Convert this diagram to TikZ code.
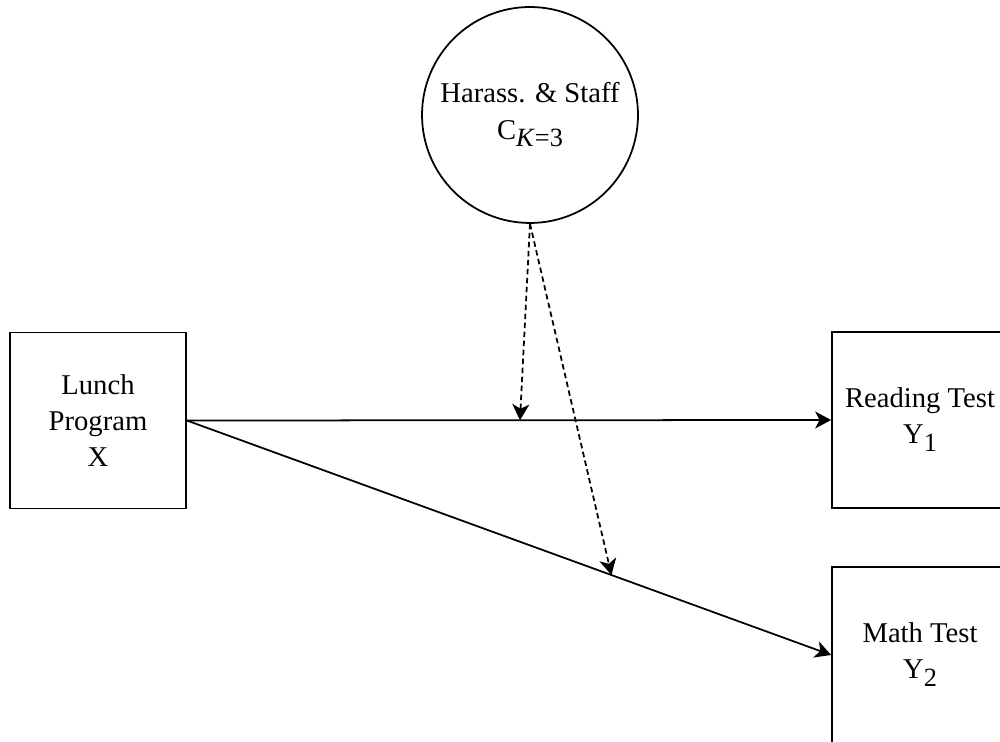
\documentclass[tikz,border=0pt]{standalone}
\usepackage{fontspec}
\setmainfont{Liberation Serif}
\usetikzlibrary{arrows.meta}
\newcommand{\lowidx}[1]{\raisebox{-4.5pt}{\fontsize{15}{15}\selectfont #1}}
\tikzset{
	var/.style={draw, line width=1pt, minimum width=3.52cm, minimum height=3.52cm, align=center, font=\fontsize{16.3}{20.5}\selectfont},
	conf/.style={var, circle, minimum size=4.32cm},
	fx/.style={-{Stealth[length=0.32cm, width=0.34cm, inset=0.09cm]}, line width=1pt},
	mod/.style={fx, dash pattern=on 0.11cm off 0.07cm}
}
\begin{document}
\begin{tikzpicture}[x=0.02cm, y=-0.02cm]
	\clip (0,0) rectangle (1000,742);
	\node (Lu) at (98,420.5) [var] {Lunch\\Program\\X};
	\node (Re) at (920,420)  [var] {Reading Test\\Y\lowidx{1}};
	\node (Ma) at (920,655)  [var] {Math Test\\Y\lowidx{2}};
	\node (Ha) at (530,115)  [conf] {Harass. \& Staff\\C\lowidx{\textit{K}=3}};
	\draw[fx] (Lu.east) -- coordinate[pos=0.517] (t1) (Re.west);
	\draw[fx] (Lu.east) -- coordinate[pos=0.659] (t2) (Ma.west);
	\draw[mod] (Ha.south) -- (t1);
	\draw[mod] (Ha.south) -- (t2);
\end{tikzpicture}
\end{document}
